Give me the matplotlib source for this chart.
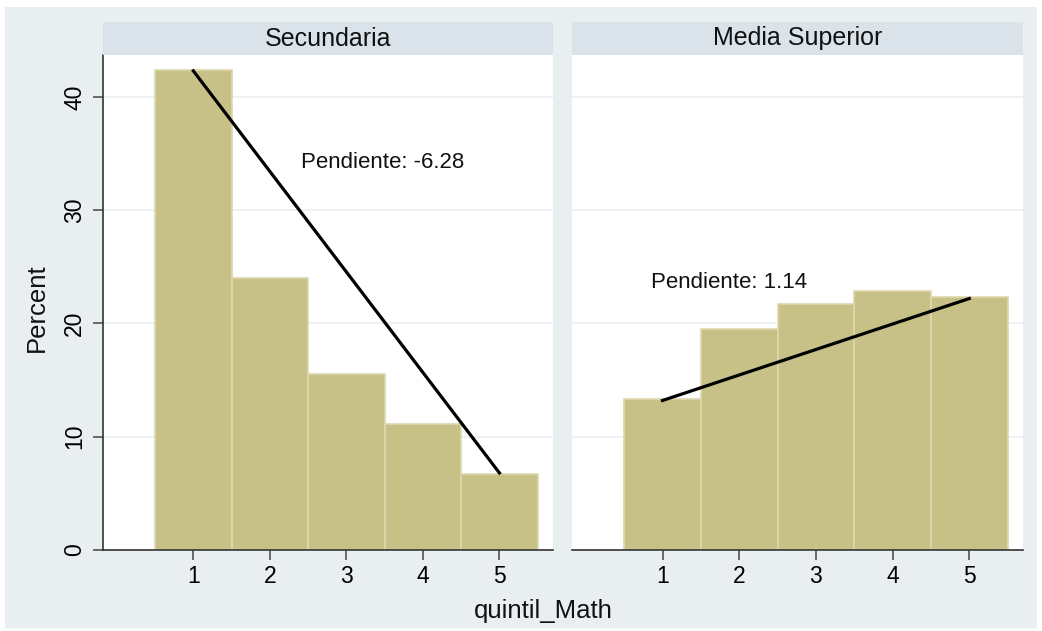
import matplotlib
matplotlib.use("Agg")
import matplotlib.pyplot as plt
from matplotlib.patches import Rectangle

plt.rcParams['font.family'] = ['Liberation Sans', 'DejaVu Sans']

quintiles = [1, 2, 3, 4, 5]
panel_titles = ["Secundaria", "Media Superior"]
secundaria_pct = [42.4, 24.0, 15.5, 11.1, 6.7]
media_sup_pct = [13.3, 19.5, 21.7, 22.9, 22.3]
series = [secundaria_pct, media_sup_pct]
# fitted line endpoints (x at quintile 1 and 5)
fit_x = [1, 5]
fit_secundaria = [42.3, 6.8]
fit_media_sup = [13.2, 22.2]
fits = [fit_secundaria, fit_media_sup]
slope_labels = ["Pendiente: -6.28", "Pendiente: 1.14"]
label_pos = [(2.41, 34.2), (0.85, 23.6)]
yticks = [0, 10, 20, 30, 40]
xlabel = "quintil_Math"
ylabel = "Percent"

W, H = 1042, 631
fig = plt.figure(figsize=(W / 100, H / 100), dpi=100)
fig.patch.set_facecolor('white')
fig.patches.append(Rectangle((5 / W, 1 - 628 / H), 1032 / W, 621 / H,
                             transform=fig.transFigure, facecolor='#E9EEF1',
                             edgecolor='none', zorder=-10))

bar_color = '#C8C187'
edge_color = '#DDD7AE'
panels_px = [(103, 553), (572, 1023)]
top_px, bot_px, head_top_px = 55, 550, 22

for i, (x0, x1) in enumerate(panels_px):
    ax = fig.add_axes([x0 / W, 1 - bot_px / H, (x1 - x0) / W, (bot_px - top_px) / H])
    ax.set_facecolor('white')
    ax.bar(quintiles, series[i], width=1.0, color=bar_color, edgecolor=edge_color,
           linewidth=1.2, zorder=2)
    ax.plot(fit_x, fits[i], color='black', linewidth=2.3, zorder=3)
    ax.text(label_pos[i][0], label_pos[i][1], slope_labels[i], fontsize=16,
            ha='left', va='center', color='#111111', zorder=4)
    ax.set_xlim(-0.18, 5.70)
    ax.set_ylim(0, 43.7)
    ax.set_yticks(yticks)
    ax.set_xticks(quintiles)
    ax.yaxis.grid(True, color='#EAEFF2', linewidth=1.2, zorder=0)
    ax.set_axisbelow(True)
    for s in ['top', 'right']:
        ax.spines[s].set_visible(False)
    ax.spines['bottom'].set_color('#333333')
    ax.spines['bottom'].set_linewidth(1.2)
    ax.tick_params(axis='x', length=7, width=1.1, color='#444444', labelsize=16.5, pad=4)
    if i == 0:
        ax.spines['left'].set_color('#333333')
        ax.spines['left'].set_linewidth(1.2)
        ax.tick_params(axis='y', length=7, width=1.1, color='#444444', labelsize=16.5, pad=5)
        for lab in ax.get_yticklabels():
            lab.set_rotation(90)
            lab.set_va('center')
    else:
        ax.spines['left'].set_visible(False)
        ax.tick_params(axis='y', left=False, labelleft=False)
    # header strip
    hax = fig.add_axes([x0 / W, 1 - top_px / H, (x1 - x0) / W, (top_px - head_top_px) / H])
    hax.set_facecolor('#D9E3E9')
    for s in hax.spines.values():
        s.set_visible(False)
    hax.set_xticks([])
    hax.set_yticks([])
    hax.text(0.5, 0.5, panel_titles[i], ha='center', va='center', fontsize=18,
             color='#111111', transform=hax.transAxes)

fig.text(543 / W, 1 - 611 / H, xlabel, ha='center', va='center', fontsize=18.5, color='#111111')
fig.text(37 / W, 1 - 308 / H, ylabel, ha='center', va='center', fontsize=18.5,
         rotation=90, color='#111111')

fig.savefig('out.png', dpi=100, facecolor=fig.get_facecolor())
